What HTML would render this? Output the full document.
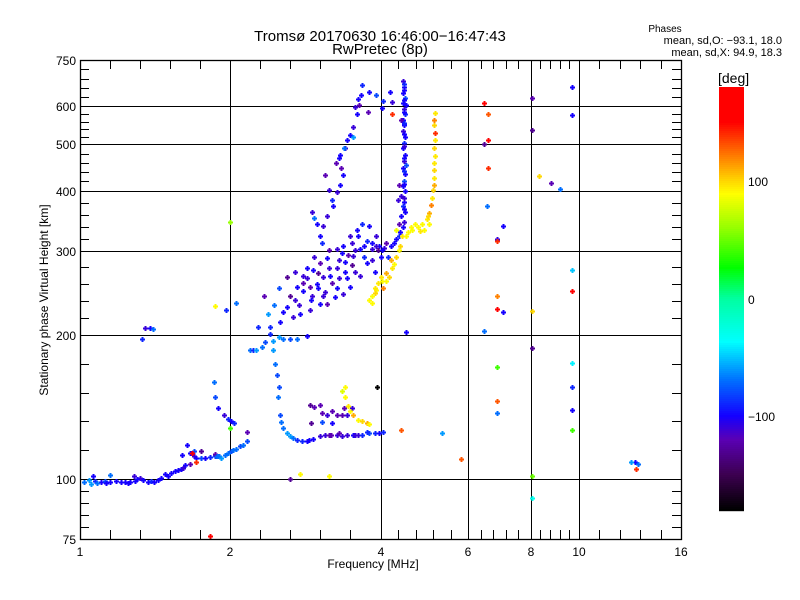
<!DOCTYPE html>
<html><head><meta charset="utf-8"><title>Ionogram</title>
<style>
html,body{margin:0;padding:0;background:#fff;}
svg{display:block;font-family:"Liberation Sans",sans-serif;}
</style></head>
<body>
<svg id="chart" width="800" height="600" viewBox="0 0 800 600" xmlns="http://www.w3.org/2000/svg">
<rect x="0" y="0" width="800" height="600" fill="#fff"/>
<text x="380" y="41" text-anchor="middle" font-size="15">Tromsø 20170630 16:46:00−16:47:43</text>
<text x="380" y="54" text-anchor="middle" font-size="15">RwPretec (8p)</text>
<text x="665" y="32" text-anchor="middle" font-size="10">Phases</text>
<text x="782" y="44" text-anchor="end" font-size="11">mean, sd,O: −93.1, 18.0</text>
<text x="782" y="56" text-anchor="end" font-size="11">mean, sd,X:  94.9, 18.3</text>
<g id="grid"></g>
<g id="points"></g>
<g id="axes"></g>
<text transform="translate(48,300) rotate(-90)" text-anchor="middle" font-size="12">Stationary phase Virtual Height [km]</text>
<text x="373" y="568" text-anchor="middle" font-size="12">Frequency [MHz]</text>
<g id="colorbar"></g>
<text x="718" y="83" font-size="14">[deg]</text>
</svg>
<script>
const xTickValues = [1, 2, 4, 6, 8, 10, 16];
const xTickLabels = ["1", "2", "4", "6", "8", "10", "16"];
const yTickValues = [75, 100, 200, 300, 400, 500, 600, 750];
const yTickLabels = ["75", "100", "200", "300", "400", "500", "600", "750"];
const cbTickValues = [100, 0, -100];
const cbTickLabels = ["100", "0", "−100"];

const eLayer = [[1.02,98.1,-70],[1.05,97,-60],[1.07,98.6,-90],[1.10,98.1,-100],[1.12,98.6,-80],[1.15,98.1,-100],[1.18,98.6,-100],[1.21,98.1,-100],[1.23,98.1,-100],[1.26,98.1,-100],[1.29,98.6,-100],[1.32,100,-110],[1.34,99,-100],[1.37,98.1,-100],[1.39,98.6,-90],[1.41,98.1,-100],[1.45,100,-100],[1.48,102,-100],[1.52,102.5,-100],[1.55,103.5,-100],[1.59,104.5,-100],[1.62,106.5,-100],[1.66,112.9,-100],[1.69,111,-110],[1.71,110.2,-100],[1.75,110.2,-80],[1.78,110.2,-100],[1.82,110.7,-90],[1.86,111,-80],[1.90,111.3,-70],[1.95,112,-70],[2.01,114,-80],[2.05,115,-70],[2.09,116.8,-80],[2.12,117.3,-70],[2.16,119.6,-80],[1.06,101,-100],[1.15,101.5,-70],[1.28,101,-110],[1.66,107,-120],[1.69,114,-80],[1.60,112,-100],[1.75,114,-130],[1.86,112.4,-120],[1.92,110,-60],[1.64,117,-100],[1.68,112.9,170],[1.71,108,140],[1.04,99,-60],[1.08,97.5,-70],[1.13,97.8,-100],[1.25,97.8,-100],[1.30,99.5,-100],[1.43,99,-100],[1.50,101,-100],[1.57,104,-100],[1.61,105,-110],[1.88,111.5,-70],[1.98,113,-70],[2.03,114.5,-70]];
const eRise = [[1.853,158.5,-70],[1.862,147.4,-80],[1.888,140.4,-100],[1.941,135.7,-110],[1.98,133,-90],[2.01,131.8,-100],[2.032,130.5,-90],[2.00,127,40],[2.16,125,-120]];
const f1Trace = [[2.432,185,-60],[2.455,172.9,-70],[2.478,164,-80],[2.489,147.4,-70],[2.50,155,-80],[2.512,135.7,-80],[2.53,131,-70],[2.547,127.4,-70],[2.60,124.3,-60],[2.667,121.4,-70],[2.72,120.2,-90],[2.78,119.6,-90],[2.845,119.6,-100],[2.93,121,-100],[3.02,122.6,-110],[3.1,123.2,-110],[3.19,123.2,-120],[3.267,123.2,-110],[3.35,122.6,-110],[3.42,123.2,-110],[3.52,123.2,-100],[3.6,123.2,-110],[3.681,123.2,-90],[3.80,124.3,-80],[3.90,124.3,-90],[3.981,124.3,-100],[4.05,125,-90],[2.884,142.4,-130],[2.95,141,-120],[3.020,142.4,-120],[3.12,135.7,-110],[3.267,135.7,-120],[3.35,135.7,-120],[3.42,135.7,-110],[3.5,140,-110],[2.90,130.5,-130],[3.06,131,-80],[3.2,130.5,-100],[2.63,122.5,-60],[2.88,120.3,-100],[3.15,122.8,-120],[3.3,124,-120],[3.56,122.8,-110],[3.75,125,-90],[3.05,137,-120],[3.2,138,-120],[3.38,140,-120]];
const f1Yellow = [[3.389,154.7,90],[3.40,147.4,90],[3.436,141.8,95],[3.48,138,90],[3.516,135.7,110],[3.6,132,90],[3.681,131.8,100],[3.75,130.5,110],[3.802,129.9,90],[3.35,152,80]];
const f2Base = [[2.19,185,-70],[2.22,185,-90],[2.25,185,-60],[2.312,187.8,-70],[2.344,192.4,-80],[2.432,193,-60],[2.547,195.2,-70],[2.63,195.2,-80],[2.717,195.2,-70],[2.845,198.1,-100],[2.40,200,-90],[2.50,197,-60],[2.27,207,-90]];
const f2Blob = [[2.398,206.9,-90],[2.512,212,-100],[2.667,217.3,-110],[2.755,220.4,-100],[2.884,224.7,-110],[3.02,231.3,-100],[3.119,231.3,-120],[3.24,239.3,-100],[3.358,242.8,-110],[3.467,251.2,-100],[3.631,263.7,-110],[3.75,280.8,-100],[3.855,300.6,-110],[3.981,305.1,-100],[4.07,302,-110],[4.207,305,-100],[2.6,228,-100],[2.7,236,-110],[2.793,246,-100],[2.884,251.2,-120],[2.979,254.5,-100],[3.062,262.4,-110],[3.162,263.7,-100],[3.267,274.2,-110],[3.389,283,-100],[3.516,290.4,-110],[3.631,300.6,-100],[3.75,312,-90],[2.717,251.2,-100],[2.793,263.7,-110],[2.924,272,-100],[3.02,280.8,-120],[3.119,287.7,-100],[3.267,300.6,-110],[3.358,305,-100],[3.467,320.1,-110],[3.582,330.1,-100],[3.681,340,-90],[3.802,336,-100],[3.926,320,-110],[2.63,240,-130],[2.8,256,-120],[2.92,240,-110],[3.0,268,-130],[3.1,245,-110],[3.2,255,-120],[3.3,262,-110],[3.4,270,-100],[3.5,278,-130],[3.55,300,-110],[3.45,292,-120],[3.3,285,-110],[3.16,300,-120],[3.05,310,-90],[2.95,290,-110],[2.85,275,-100],[2.7,270,-110],[2.6,263,-130],[2.5,250,-80],[2.45,230,-70],[2.38,220,-60],[2.34,240,-120],[3.6,320,-100],[3.7,290,-90],[3.85,285,-110],[3.9,270,-100],[4.0,290,-100],[4.1,310,-120],[4.15,290,-90],[3.95,300,-130],[2.55,222,-100],[2.75,230,-110],[2.9,235,-100],[3.07,240,-110],[3.28,250,-100],[3.42,262,-100],[3.56,270,-110],[3.7,305,-100],[2.85,262,-110],[3.0,250,-100],[3.15,275,-110],[3.35,295,-100],[3.5,310,-110],[3.85,310,-100],[3.92,305,-110],[4.03,300,-100]];
const f2Upper = [[3.02,320.1,-100],[3.062,336,-110],[3.12,352,-110],[3.207,370,-100],[3.2,380,-90],[3.267,395,-110],[3.312,410,-100],[3.358,430,-100],[3.33,445,-120],[3.312,471.8,-100],[3.4,488,-110],[3.42,507,-100],[3.467,519.8,-100],[3.52,540,-110],[3.582,575.6,-100],[3.63,600,-120],[3.65,631,-100],[3.681,662,-90],[3.6,620,-100],[3.55,595,-110],[2.98,340,-100],[2.92,360,-110],[2.95,350,-70],[3.16,400,-110],[3.1,430,-120],[3.26,456,-120],[3.3,465,-100],[3.38,490,-70],[3.52,515,-60],[3.926,631,-80],[4.037,592.6,-100],[4.227,609.9,-110],[4.05,612,-90],[4.17,640,-100],[3.8,640,-100],[3.78,580,-120]];
const xColumn = [[4.43,674,-110],[4.45,655,-100],[4.43,637,-100],[4.47,622,-80],[4.43,607,-100],[4.45,590,-110],[4.47,575,-90],[4.43,560,-100],[4.45,545,-100],[4.43,530,-110],[4.47,515,-100],[4.45,500,-90],[4.43,488,-100],[4.47,472,-100],[4.45,460,-110],[4.43,445,-100],[4.47,432,-100],[4.45,418,-80],[4.43,408,-100],[4.47,398,-100],[4.40,388,-110],[4.45,378,-100],[4.43,370,-90],[4.47,360,-100],[4.40,352,-100],[4.45,342,-110],[4.43,334,-100],[4.38,327,-100],[4.35,320,-90],[4.30,315,-100],[4.25,310,-100],[4.36,340,-120],[4.33,380,-110],[4.5,450,-80],[4.4,560,-120],[4.5,600,-100],[4.35,410,-120],[4.46,665,-90],[4.46,645,-100],[4.46,615,-100],[4.46,582,-100],[4.46,552,-90],[4.46,522,-100],[4.46,494,-110],[4.46,466,-100],[4.46,438,-90],[4.46,412,-100],[4.46,385,-110],[4.46,365,-100]];
const xYellow = [[5.152,578,95],[5.13,560,120],[5.13,545,100],[5.15,525,140],[5.14,507,95],[5.13,488,100],[5.14,471,95],[5.13,455,95],[5.13,440,100],[5.12,424,95],[5.11,410,110],[5.10,400,100],[5.083,385,95],[5.05,372,120],[5.013,357,110],[4.95,348,95],[4.854,340,90],[4.75,335,90],[4.636,330,88],[4.55,327,90],[4.426,320,95],[4.37,305,100],[4.35,300,90],[4.305,290,100],[4.266,280,90],[4.227,274,95],[4.169,263,100],[4.1,258,90],[4.0,263,95],[3.95,255,95],[3.926,247,90],[3.85,240,88],[3.80,236,90],[3.85,232,90],[3.90,243,100],[4.05,250,120],[4.1,268,110],[4.3,330,85],[4.5,320,90],[4.7,340,90],[4.9,330,90],[4.98,352,100],[4.2,285,110],[4.6,335,90],[4.8,328,95],[5.0,340,90],[4.03,258,90],[3.9,250,95]];
const scatter = [[6.46,607,150],[6.58,575,130],[9.69,656,-100],[8.06,622,-120],[9.69,572,-100],[8.06,532,-130],[6.58,507,160],[6.46,498,-130],[6.58,445,140],[8.32,428,100],[8.79,414,-120],[9.16,402,-70],[6.55,370,-70],[7.05,336,-100],[6.86,316,-110],[6.86,312,140],[9.69,272,-50],[9.69,246,170],[6.86,240,120],[6.86,226,170],[7.05,222,-100],[8.06,223,100],[6.46,203,-70],[8.06,187,-130],[6.86,171,40],[9.69,174,-40],[9.69,155,-90],[6.86,145,130],[6.86,137,-70],[9.69,139,-100],[9.69,126,40],[5.81,109.6,130],[12.94,108,-100],[12.71,108,-60],[13.12,107,-70],[13.0,104.5,140],[8.06,101,50],[8.06,90.8,-30],[4.21,575,140],[1.82,75.8,150],[2.63,99.5,-130],[2.755,102,90],[3.16,101,90],[3.945,155,-180],[4.4,126,130],[5.3,124,-60],[4.5,202,-100],[1.35,205.9,-110],[1.38,205.9,-100],[1.40,205,-70],[1.33,195,-90],[1.86,229,90],[1.96,224.7,-90],[2.05,232,-70],[2.0,343,60]];

const seriesList = [eLayer, eRise, f1Trace, f1Yellow, f2Base, f2Blob, f2Upper, xColumn, xYellow, scatter];

const NS = "http://www.w3.org/2000/svg";
const PL = 80, PR = 681, PT = 60, PB = 539;
const CBX = 719, CBW = 25, CBT = 87, CBB = 510;
function xScale(f){ return PL + (PR-PL) * Math.log(f/1) / Math.log(16); }
function yScale(h){ return PB - (PB-PT) * Math.log(h/75) / Math.log(10); }
function cbScale(v){ return CBB - (CBB-CBT) * (v + 180) / 360; }
const stops = [[-180,0,0,0],[-150,60,0,80],[-120,90,0,180],[-100,20,0,255],[-70,0,110,255],[-37,0,255,255],[0,0,255,160],[26,0,255,0],[60,150,255,0],[89,255,255,0],[100,255,215,0],[150,255,0,0],[180,255,0,0]];
function phaseColor(v){
  v = Math.max(-180, Math.min(180, v));
  for (let i=0;i<stops.length-1;i++){
    const a=stops[i], b=stops[i+1];
    if (v>=a[0] && v<=b[0]){
      const t=(v-a[0])/(b[0]-a[0]);
      return "rgb("+Math.round(a[1]+t*(b[1]-a[1]))+","+Math.round(a[2]+t*(b[2]-a[2]))+","+Math.round(a[3]+t*(b[3]-a[3]))+")";
    }
  }
  return "rgb(255,0,0)";
}
function mk(tag, attrs, parent){
  const e = document.createElementNS(NS, tag);
  for (const k in attrs) e.setAttribute(k, attrs[k]);
  parent.appendChild(e);
  return e;
}
const grid = document.getElementById("grid");
const axes = document.getElementById("axes");
const pts = document.getElementById("points");
const cb = document.getElementById("colorbar");

xTickValues.forEach((v,i)=>{
  const x = Math.round(xScale(v))+0.5;
  if (i>0 && i<xTickValues.length-1){
    const l = mk("line",{x1:x,y1:PT,x2:x,y2:PB,stroke:"#000","stroke-width":1},grid);
    
    
  }
  const t = mk("text",{x:Math.round(xScale(v)),y:PB+17,"text-anchor":"middle","font-size":12},axes);
  t.textContent = xTickLabels[i];
  
  
  if (i<xTickValues.length-1){
    const x0 = xScale(v), x1 = xScale(xTickValues[i+1]);
    for (let k=1;k<5;k++){
      const xm = Math.round(x0+(x1-x0)*k/5)+0.5;
      const m1 = mk("line",{x1:xm,y1:PB,x2:xm,y2:PB-9,stroke:"#000"},axes);
      
      
      const m2 = mk("line",{x1:xm,y1:PT,x2:xm,y2:PT+9,stroke:"#000"},axes);
      
      
    }
  }
});
yTickValues.forEach((v,i)=>{
  const y = Math.round(yScale(v))+0.5;
  if (i>0 && i<yTickValues.length-1){
    const l = mk("line",{x1:PL,y1:y,x2:PR,y2:y,stroke:"#000","stroke-width":1},grid);
    
    
  }
  const t = mk("text",{x:PL-4,y:Math.round(yScale(v))+5,"text-anchor":"end","font-size":12},axes);
  t.textContent = yTickLabels[i];
  
  
  if (i<yTickValues.length-1){
    const y0 = yScale(v), y1 = yScale(yTickValues[i+1]);
    for (let k=1;k<5;k++){
      const ym = Math.round(y0+(y1-y0)*k/5)+0.5;
      const m1 = mk("line",{x1:PL,y1:ym,x2:PL+9,y2:ym,stroke:"#000"},axes);
      
      
      const m2 = mk("line",{x1:PR-9,y1:ym,x2:PR,y2:ym,stroke:"#000"},axes);
      
      
    }
  }
});
const frame = mk("rect",{x:PL+0.5,y:PT+0.5,width:PR-PL,height:PB-PT,fill:"none",stroke:"#000","stroke-width":1.3},axes);



seriesList.forEach(series=>{
  series.forEach(p=>{
    const cx = Math.round(xScale(p[0])), cy = Math.round(yScale(p[1]));
    const c = phaseColor(p[2]);
    const g = mk("path",{d:"M"+(cx-2)+" "+(cy-0.5)+"h5M"+(cx+0.5)+" "+(cy-3)+"v5",stroke:c,"stroke-width":2,fill:"none"},pts);
    
    
  });
});

for (let y=CBT; y<CBB; y+=2){
  const v = -180 + 360*(CBB-y-1)/(CBB-CBT);
  const r = mk("rect",{x:CBX,y:y,width:CBW,height:2.2,fill:phaseColor(v)},cb);
  
  
}
cbTickValues.forEach((v,i)=>{
  const t = mk("text",{x:CBX+CBW+4,y:Math.round(cbScale(v))+5,"font-size":12},cb);
  t.textContent = cbTickLabels[i];
  
  
});
</script>
</body></html>
